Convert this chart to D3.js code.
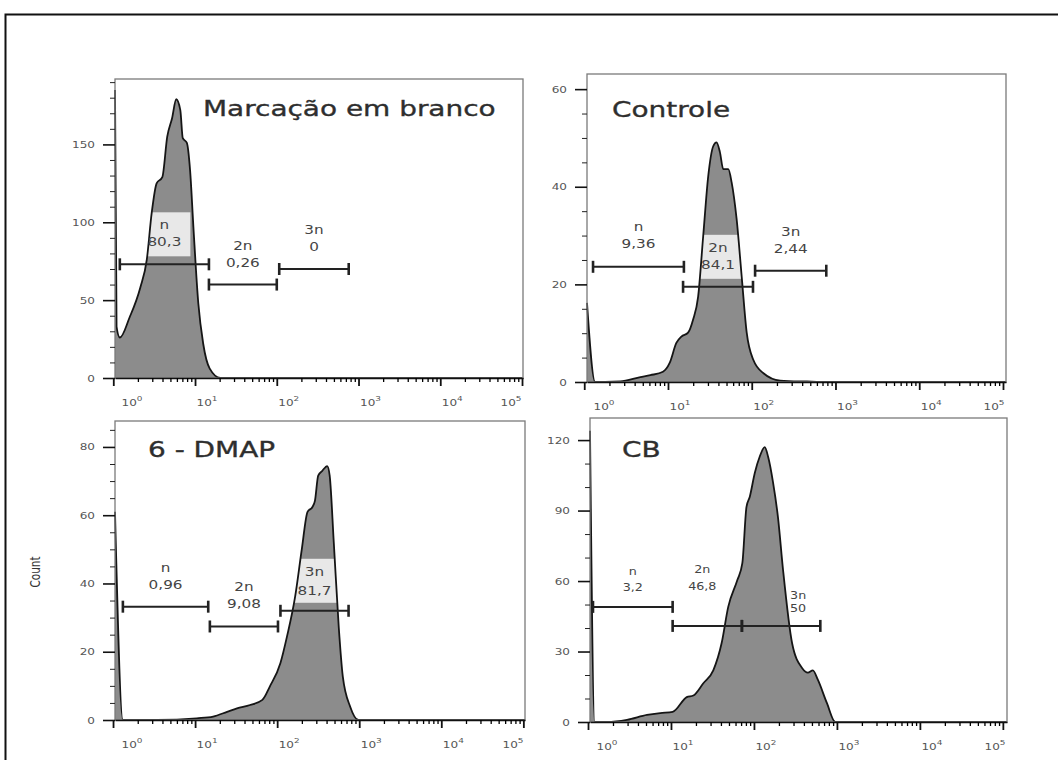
<!DOCTYPE html>
<html>
<head>
<meta charset="utf-8">
<script src="https://cdn.jsdelivr.net/npm/d3@7"></script>
<style>
  body { margin: 0; background: #fff; }
  svg  { display: block; font-family: "DejaVu Sans", Verdana, sans-serif; }
</style>
</head>
<body>
<div id="chart"></div>
<script>

// histogram outlines: log10 of intensity, event count
const blankLog   = [0.021, 0.04, 0.08, 0.20, 0.33, 0.41, 0.47, 0.53, 0.60, 0.66, 0.72, 0.77, 0.82, 0.85, 0.90, 0.94, 0.98, 1.04, 1.10, 1.18, 1.31, 5.0];
const blankCount = [185, 33, 26, 39, 58, 76, 106, 125, 129, 155, 167, 179, 172, 154, 151, 133, 97, 48, 22, 6, 0, 0];

const ctrlLog   = [0.033, 0.13, 0.25, 0.43, 0.67, 0.79, 0.94, 1.02, 1.10, 1.16, 1.24, 1.30, 1.36, 1.42, 1.48, 1.54, 1.58, 1.62, 1.66, 1.72, 1.76, 1.82, 1.88, 1.94, 2.02, 2.14, 2.34, 2.66, 2.90, 5.03];
const ctrlCount = [16.2, 0, 0, 0.1, 1.0, 1.4, 2.1, 3.9, 8, 9.3, 10.1, 12.8, 17.5, 29.8, 42.1, 48.3, 49.1, 47.1, 43.6, 43.6, 40.9, 33.3, 21.6, 10.1, 4.5, 1.8, 0.3, 0.1, 0, 0];

const dmapLog   = [0.024, 0.12, 0.54, 1.02, 1.22, 1.39, 1.51, 1.67, 1.82, 1.91, 2.04, 2.12, 2.22, 2.30, 2.37, 2.43, 2.46, 2.50, 2.55, 2.61, 2.64, 2.69, 2.75, 2.80, 2.89, 2.99, 5.02];
const dmapCount = [61, 0, 0, 0.5, 1, 2.4, 3.4, 4.4, 5.9, 9.8, 16.7, 24.5, 36.3, 50, 61, 62.4, 64.2, 71.6, 73, 74.4, 71.6, 52, 27.4, 12.7, 3.9, 0, 0];

const cbLog   = [0.024, 0.08, 0.23, 0.47, 0.71, 0.87, 1.02, 1.19, 1.27, 1.39, 1.51, 1.61, 1.69, 1.80, 1.86, 1.91, 1.95, 2.01, 2.07, 2.13, 2.17, 2.23, 2.29, 2.35, 2.46, 2.58, 2.65, 2.71, 2.77, 2.88, 2.98, 5.05];
const cbCount = [124, 0, 0, 0.9, 3, 3.8, 4.3, 10.6, 11.3, 16.5, 22, 33.5, 49, 60.4, 67.6, 91.6, 95.9, 106, 113, 117, 113, 102, 87, 65, 33.5, 23, 21, 22, 18, 8, 0, 0];

// gates: start / end (log10), bar height (count), percentage label
const gateNames = ["n", "2n", "3n"];

const blankGateFrom = [0.08, 1.17, 2.03],  blankGateTo = [1.17, 2.00, 2.88],
      blankGateLevel = [73, 60, 70],       blankGatePct = ["80,3", "0,26", "0"];
const ctrlGateFrom = [0.105, 1.18, 2.04],  ctrlGateTo = [1.19, 2.015, 2.89],
      ctrlGateLevel = [23.6, 19.5, 22.8],  ctrlGatePct = ["9,36", "84,1", "2,44"];
const dmapGateFrom = [0.12, 1.18, 2.04],   dmapGateTo = [1.16, 2.01, 2.87],
      dmapGateLevel = [33.2, 27.4, 32],    dmapGatePct = ["0,96", "9,08", "81,7"];
const cbGateFrom = [0.06, 1.02, 1.855],    cbGateTo = [1.02, 1.855, 2.80],
      cbGateLevel = [49, 40.9, 40.9],      cbGatePct = ["3,2", "46,8", "50"];

const xTickExp = [0, 1, 2, 3, 4, 5];

const W = 1058, H = 760,
      sx = 1.27;   // the source picture is stretched horizontally

const panels = [
  { title: "Marcação em branco", tx: 203, ty: 116, box: [115, 79, 523, 378], dom: [0.021, 5.012],
    yMax: 192, yMajor: 50, yMinor: 10, logs: blankLog, counts: blankCount,
    from: blankGateFrom, to: blankGateTo, level: blankGateLevel, pct: blankGatePct,
    labelBox: true, fs: 12, dx: [0, 0, 0], dy: [18, 18, 18], gap: [17, 17, 17] },
  { title: "Controle", tx: 612, ty: 117, box: [587, 74, 1006, 382], dom: [0.033, 5.036],
    yMax: 63.1, yMajor: 20, yMinor: 5, logs: ctrlLog, counts: ctrlCount,
    from: ctrlGateFrom, to: ctrlGateTo, level: ctrlGateLevel, pct: ctrlGatePct,
    labelBox: true, fs: 12, dx: [0, 0, 0], dy: [19, 18, 18], gap: [17, 17, 17] },
  { title: "6 - DMAP", tx: 148, ty: 457, box: [115, 421, 525, 720], dom: [0.024, 5.02],
    yMax: 87.6, yMajor: 20, yMinor: 5, logs: dmapLog, counts: dmapCount,
    from: dmapGateFrom, to: dmapGateTo, level: dmapGateLevel, pct: dmapGatePct,
    labelBox: true, fs: 12, dx: [0, 0, 0], dy: [18, 18, 16], gap: [17, 17, 19] },
  { title: "CB", tx: 622, ty: 457, box: [590, 418, 1007, 722], dom: [0.024, 5.05],
    yMax: 129.4, yMajor: 30, yMinor: 10, logs: cbLog, counts: cbCount,
    from: cbGateFrom, to: cbGateTo, level: cbGateLevel, pct: cbGatePct,
    labelBox: false, fs: 10, dx: [0, -5, 17], dy: [16, 36, 14], gap: [16, 17, 13] }
];

const svg = d3.select("#chart")
  .append("svg")
    .attr("width", W)
    .attr("height", H);

svg.append("rect")
  .attr("x", 5.5).attr("y", 14.5)
  .attr("width", W).attr("height", H)
  .attr("fill", "none")
  .attr("stroke", "#111")
  .attr("stroke-width", 2);

const put = (x, y) => `translate(${x},${y}) scale(${sx},1)`;

panels.forEach(p => {
  const [l, t, r, b] = p.box;
  const x = d3.scaleLog().domain(p.dom.map(e => 10 ** e)).range([l, r]);
  const y = d3.scaleLinear().domain([0, p.yMax]).range([b, t]);
  const pts = p.logs.map((e, i) => [10 ** e, p.counts[i]]);
  const g = svg.append("g");

  g.append("path")
    .datum(pts)
    .attr("d", d3.area().x(d => x(d[0])).y0(b).y1(d => y(d[1])).curve(d3.curveMonotoneX))
    .attr("fill", "#8c8c8c");

  const gates = gateNames.map((name, i) => {
    const x1 = x(10 ** p.from[i]), x2 = x(10 ** p.to[i]), yy = y(p.level[i]);
    return { name, x1, x2, yy, cx: (x1 + x2) / 2 + p.dx[i], dy: p.dy[i], gap: p.gap[i], pct: p.pct[i] };
  });

  if (p.labelBox) {
    g.selectAll("rect.lbox")
      .data(gates)
      .join("rect")
        .attr("class", "lbox")
        .attr("x", d => d.cx - 24)
        .attr("y", d => d.yy - 52)
        .attr("width", 50)
        .attr("height", 44)
        .attr("fill", "#fff")
        .attr("fill-opacity", 0.8);
  }

  g.append("path")
    .datum(pts)
    .attr("d", d3.line().x(d => x(d[0])).y(d => y(d[1])).curve(d3.curveMonotoneX))
    .attr("fill", "none")
    .attr("stroke", "#151515")
    .attr("stroke-width", 1.8)
    .attr("stroke-linejoin", "round");

  g.append("rect")
    .attr("x", l).attr("y", t)
    .attr("width", r - l).attr("height", b - t)
    .attr("fill", "none")
    .attr("stroke", "#7a7a7a")
    .attr("stroke-width", 1.3);

  // x axis, log decades
  const minor = d3.range(0, 5).flatMap(k => d3.range(2, 10).map(m => m * 10 ** k));
  g.append("g")
    .attr("transform", `translate(0,${b})`)
    .call(d3.axisBottom(x).tickValues(minor).tickSize(4).tickSizeOuter(0).tickFormat(""))
    .call(a => a.select(".domain").attr("stroke", "#111").attr("stroke-width", 1.6))
    .call(a => a.selectAll("line").attr("stroke-width", 1.3));
  g.append("g")
    .attr("transform", `translate(0,${b})`)
    .call(d3.axisBottom(x).tickValues(xTickExp.map(e => 10 ** e)).tickSize(8).tickSizeOuter(0).tickFormat(""))
    .call(a => a.select(".domain").remove())
    .call(a => a.selectAll("line").attr("stroke", "#111").attr("stroke-width", 1.8));

  const xl = g.selectAll("text.xlab")
    .data(xTickExp)
    .join("text")
      .attr("class", "xlab")
      .attr("transform", e => put(Math.max(l + 17, Math.min(r - 12, x(10 ** e) + 12)), b + 28))
      .attr("text-anchor", "middle")
      .attr("fill", "#555")
      .style("font-size", "9.5px")
      .text("10");
  xl.append("tspan")
    .attr("dy", -5)
    .style("font-size", "7px")
    .text(e => e);

  // y axis
  g.append("g")
    .attr("transform", `translate(${l},0)`)
    .call(d3.axisLeft(y).tickValues(d3.range(0, p.yMax + 0.01, p.yMinor).filter(v => v % p.yMajor)).tickSize(5).tickFormat(""))
    .call(a => a.select(".domain").remove())
    .call(a => a.selectAll("line").attr("stroke", "#222"));
  g.append("g")
    .attr("transform", `translate(${l},0)`)
    .call(d3.axisLeft(y).tickValues(d3.range(0, p.yMax, p.yMajor)).tickSize(12).tickFormat(d3.format("d")))
    .call(a => a.select(".domain").remove())
    .call(a => a.selectAll("line").attr("stroke", "#111").attr("stroke-width", 1.6))
    .call(a => a.selectAll("text")
      .attr("x", 0)
      .attr("transform", put(-20, 0))
      .attr("fill", "#555")
      .style("font-size", "9.5px")
      .style("font-family", "DejaVu Sans, sans-serif"));

  // gates
  gates.forEach(d => {
    g.append("line")
      .attr("x1", d.x1).attr("x2", d.x2)
      .attr("y1", d.yy).attr("y2", d.yy)
      .attr("stroke", "#222").attr("stroke-width", 2);
    [d.x1, d.x2].forEach(cx => g.append("line")
      .attr("x1", cx).attr("x2", cx)
      .attr("y1", d.yy - 6).attr("y2", d.yy + 6)
      .attr("stroke", "#222").attr("stroke-width", 2.6));
    g.append("text")
      .attr("transform", put(d.cx, d.yy - d.dy - d.gap))
      .attr("text-anchor", "middle")
      .attr("fill", "#444")
      .style("font-size", p.fs + "px")
      .text(d.name);
    g.append("text")
      .attr("transform", put(d.cx, d.yy - d.dy))
      .attr("text-anchor", "middle")
      .attr("fill", "#444")
      .style("font-size", p.fs + "px")
      .text(d.pct);
  });

  g.append("text")
    .attr("transform", put(p.tx, p.ty))
    .attr("fill", "#2e2e2e")
    .attr("stroke", "#2e2e2e")
    .attr("stroke-width", 0.35)
    .style("font-size", "22px")
    .text(p.title);
});

svg.append("text")
  .attr("transform", "translate(40,572) rotate(-90) scale(1,1.27)")
  .attr("text-anchor", "middle")
  .attr("fill", "#333")
  .style("font-size", "10.5px")
  .text("Count");

</script>
</body>
</html>
